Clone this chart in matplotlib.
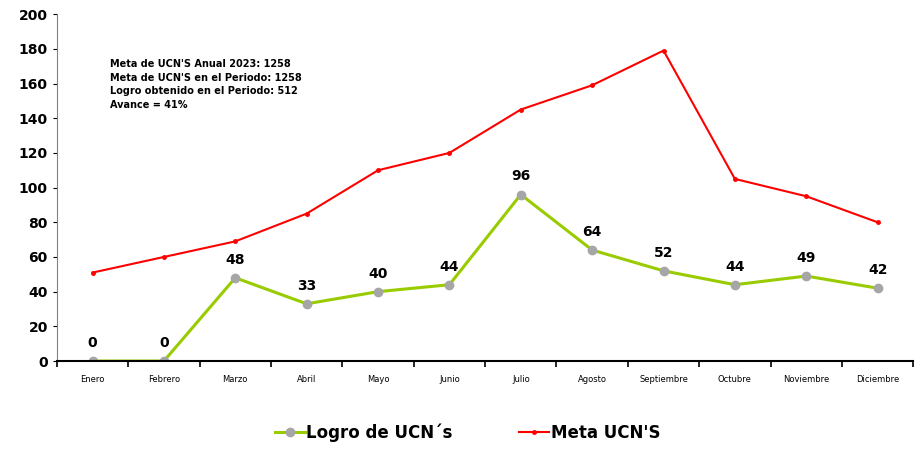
import numpy as np
import matplotlib.pyplot as plt

meses = ["Enero", "Febrero", "Marzo", "Abril", "Mayo", "Junio", "Julio",
         "Agosto", "Septiembre", "Octubre", "Noviembre", "Diciembre"]
logro = [0, 0, 48, 33, 40, 44, 96, 64, 52, 44, 49, 42]
meta = [51, 60, 69, 85, 110, 120, 145, 159, 179, 105, 95, 80]

fig = plt.figure(figsize=(9.17, 4.57), dpi=100)
ax = fig.add_axes([0.062, 0.21, 0.934, 0.759])

x = np.arange(len(meses))
ax.plot(x, logro, color="#99cc00", lw=2.2, marker="o", ms=6,
        mfc="#a6a6a6", mec="#a6a6a6", label="Logro de UCN´s")
ax.plot(x, meta, color="#ff0000", lw=1.5, marker="o", ms=2.5,
        label="Meta UCN'S")

for xi, v in zip(x, logro):
    ax.annotate(str(v), (xi, v), xytext=(0, 8), textcoords="offset points",
                ha="center", va="bottom", fontsize=10, fontweight="bold")

ax.set_xlim(-0.5, len(meses) - 0.5)
ax.set_ylim(0, 200)
ax.set_yticks(range(0, 201, 20))
ax.set_xticks(x)
ax.set_xticklabels(meses, fontsize=6)
ax.set_xticks(np.arange(-0.5, len(meses)), minor=True)
ax.tick_params(axis="x", which="major", length=0, pad=10)
ax.tick_params(axis="x", which="minor", length=4, width=1.2)
ax.tick_params(axis="y", labelsize=10, length=3)
for lbl in ax.get_yticklabels():
    lbl.set_fontweight("bold")
ax.spines["top"].set_visible(False)
ax.spines["right"].set_visible(False)
ax.spines["left"].set_color("#808080")
ax.spines["bottom"].set_linewidth(1.5)

ax.text(0.062, 0.87,
        "Meta de UCN'S Anual 2023: 1258\nMeta de UCN'S en el Periodo: 1258\n"
        "Logro obtenido en el Periodo: 512\nAvance = 41%",
        transform=ax.transAxes, fontsize=7, fontweight="bold",
        va="top", ha="left", linespacing=1.45,
        family="Liberation Sans Narrow")

fig.legend(loc="lower center", bbox_to_anchor=(0.51, 0.0), ncol=2,
           frameon=False, prop={"size": 12, "weight": "bold"},
           handlelength=1.8, handletextpad=0.1, columnspacing=4)

fig.savefig("out.png", dpi=100)
